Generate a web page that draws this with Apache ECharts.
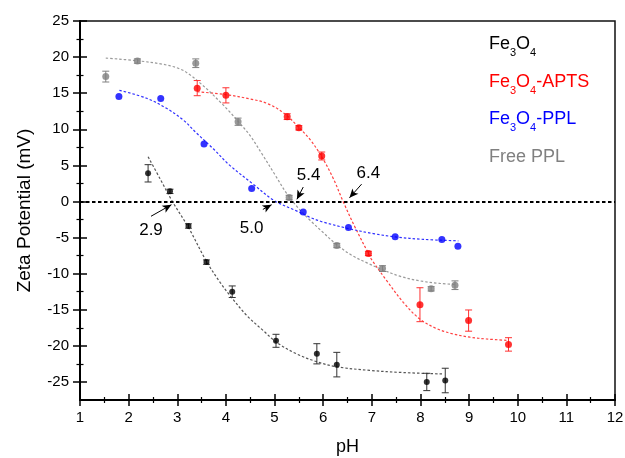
<!DOCTYPE html>
<html><head><meta charset="utf-8">
<script src="https://cdn.jsdelivr.net/npm/echarts@6/dist/echarts.min.js"></script>
<style>html,body{margin:0;padding:0;background:#fff}#c{width:625px;height:458px}</style>
</head><body><div id="c"></div>
<script>
// ---------- data ----------
const xTicks = [1,2,3,4,5,6,7,8,9,10,11,12];
const xMinorTicks = [1.5,2.5,3.5,4.5,5.5,6.5,7.5,8.5,9.5,10.5,11.5];
const yTicks = [-25,-20,-15,-10,-5,0,5,10,15,20,25];
const yMinorTicks = [-22.5,-17.5,-12.5,-7.5,-2.5,2.5,7.5,12.5,17.5,22.5];

const seriesNames = ['Fe3O4','Fe3O4-APTS','Fe3O4-PPL','Free PPL'];

// Fe3O4
const fe3o4PH   = [2.40,2.85,3.23,3.60,4.13,5.03,5.87,6.28,8.13,8.51];
const fe3o4Zeta = [3.9,1.4,-3.4,-8.4,-12.5,-19.3,-21.1,-22.6,-25.0,-24.8];
const fe3o4Err  = [1.2,0.3,0.3,0.3,0.8,0.9,1.4,1.7,1.2,1.7];
const fe3o4FitPH   = [2.40,2.65,2.90,3.23,3.60,3.88,4.08,4.43,4.77,5.04,5.45,5.87,6.28,6.96,7.65,8.47];
const fe3o4FitZeta = [6.2,3.1,0.0,-3.6,-8.3,-11.2,-13.0,-15.8,-17.9,-19.5,-21.1,-22.2,-22.9,-23.4,-23.7,-23.9];

// Fe3O4-APTS
const aptsPH   = [3.41,4.00,5.26,5.50,5.97,6.93,7.99,8.99,9.81];
const aptsZeta = [15.7,14.7,11.75,10.2,6.3,-7.2,-14.3,-16.5,-19.8];
const aptsErr  = [1.05,1.05,0.4,0.3,0.55,0.3,2.35,1.47,0.93];
const aptsFitPH   = [3.41,4.00,4.50,4.84,5.18,5.51,5.74,5.97,6.20,6.41,6.65,6.93,7.00,7.31,7.65,7.99,8.33,8.67,9.02,9.36,9.81];
const aptsFitZeta = [15.2,14.8,14.2,13.6,12.3,10.2,8.5,6.2,3.3,0.0,-3.5,-7.2,-8.1,-11.0,-14.0,-16.3,-17.6,-18.35,-18.8,-19.05,-19.25];

// Fe3O4-PPL
const pplPH   = [1.80,2.66,3.55,4.53,5.59,6.52,7.48,8.44,8.77];
const pplZeta = [14.55,14.25,7.95,1.8,-1.45,-3.6,-4.9,-5.25,-6.2];
const pplErr  = [0,0,0,0,0,0,0,0,0];
const pplFitPH   = [1.81,2.37,2.78,3.12,3.40,3.74,4.08,4.56,5.00,5.45,5.73,6.00,6.52,7.03,7.48,8.06,8.78];
const pplFitZeta = [15.4,14.3,12.9,11.3,9.45,7.3,5.0,2.4,0.1,-1.3,-2.2,-2.85,-3.75,-4.45,-4.9,-5.25,-5.45];

// Free PPL
const freePH   = [1.53,2.18,3.38,4.25,5.30,6.28,7.22,8.22,8.71];
const freeZeta = [17.3,19.45,19.15,11.05,0.55,-6.1,-9.3,-12.1,-11.6];
const freeErr  = [0.75,0.3,0.6,0.5,0.3,0.3,0.4,0.3,0.6];
const freeFitPH   = [1.53,2.17,2.71,3.06,3.26,3.47,3.67,3.88,4.08,4.29,4.49,4.75,5.00,5.25,5.50,5.73,6.00,6.28,6.60,6.90,7.20,7.60,7.99,8.40,8.72];
const freeFitZeta = [19.86,19.5,19.0,18.35,17.55,16.4,15.2,13.8,12.4,10.8,9.2,6.5,3.8,1.1,-1.0,-2.6,-4.3,-6.0,-7.5,-8.5,-9.4,-10.4,-11.0,-11.35,-11.5];

// isoelectric point labels
const iepLabels = ['2.9','5.0','5.4','6.4'];
const iepValues = [2.9,5.0,5.4,6.4];

// ---------- styling / layout ----------
const FONT = "'Liberation Sans', Arial, sans-serif";
const colors = ['#000000','#ff0000','#0000ff','#808080'];
const fitColors = ['#555555','#ff4040','#3030ff','#9a9a9a'];
const errColors = ['#333333','#ff3030','#0000ff','#808080'];
const symSizes = [6,7,7,7];
// arrow geometry relative to each IEP: [tailDx, tailDy, tipDx, tipDy, labelDx, labelDy]
const arrowGeom = [
  [-0.44,-2.05,-0.02,-0.45,-0.44,-4.0],
  [-0.24,-1.1,-0.06,-0.45,-0.47,-3.75],
  [0.19,2.0,0.06,0.3,0.30,3.6],
  [0.39,2.4,0.14,0.5,0.53,3.95]
];

const groups = [
  [fe3o4PH,fe3o4Zeta,fe3o4Err,fe3o4FitPH,fe3o4FitZeta],
  [aptsPH,aptsZeta,aptsErr,aptsFitPH,aptsFitZeta],
  [pplPH,pplZeta,pplErr,pplFitPH,pplFitZeta],
  [freePH,freeZeta,freeErr,freeFitPH,freeFitZeta]
];

function zip(a,b,c){return a.map((v,i)=>c?[v,b[i],c[i]]:[v,b[i]]);}

const series = [];
groups.forEach((g,i)=>{
  series.push({
    type:'line', name:seriesNames[i]+' fit', data:zip(g[3],g[4]),
    smooth:0.35, showSymbol:false, silent:true, z:2,
    lineStyle:{color:fitColors[i], width:1.2, type:[2.5,2]}
  });
});
groups.forEach((g,i)=>{
  series.push({
    type:'custom', name:seriesNames[i]+' err', data:zip(g[0],g[1],g[2]), z:3, silent:true,
    renderItem:(params,api)=>{
      const x=api.value(0), y=api.value(1), e=api.value(2);
      if(!e) return null;
      const t=api.coord([x,y+e]), b=api.coord([x,y-e]);
      const hw=3.5, st={stroke:errColors[i], lineWidth:1};
      return {type:'group',children:[
        {type:'line',shape:{x1:t[0],y1:t[1],x2:b[0],y2:b[1]},style:st},
        {type:'line',shape:{x1:t[0]-hw,y1:t[1],x2:t[0]+hw,y2:t[1]},style:st},
        {type:'line',shape:{x1:b[0]-hw,y1:b[1],x2:b[0]+hw,y2:b[1]},style:st}
      ]};
    }
  });
});
groups.forEach((g,i)=>{
  series.push({
    type:'scatter', name:seriesNames[i], data:zip(g[0],g[1]), z:4,
    symbol:'circle', symbolSize:symSizes[i], itemStyle:{color:colors[i]}
  });
});
// zero line + IEP arrows + labels
const arrowLines = iepValues.map((v,i)=>{
  const a=arrowGeom[i];
  return [{coord:[v+a[0],a[1]]},{coord:[v+a[2],a[3]]}];
});
series.push({
  type:'line', name:'annot', data:[], silent:true,
  markLine:{
    silent:true, symbol:['none','none'], animation:false,
    label:{show:false},
    lineStyle:{color:'#000', width:2, type:[3.5,2.5]},
    data:[{yAxis:0}]
  }
});
series.push({
  type:'line', name:'arrows', data:[], silent:true,
  markLine:{
    silent:true, symbol:['none','arrow'], symbolSize:[6,9], animation:false,
    label:{show:false},
    lineStyle:{color:'#000', width:1, type:'solid'},
    data:arrowLines
  },
  markPoint:{
    silent:true, symbol:'circle', symbolSize:1, animation:false,
    itemStyle:{color:'rgba(0,0,0,0)'},
    label:{show:true, position:'inside', color:'#000', fontSize:17, fontFamily:FONT, formatter:p=>p.name},
    data:iepValues.map((v,i)=>({name:iepLabels[i], coord:[v+arrowGeom[i][4], arrowGeom[i][5]]}))
  }
});

function valueAxis(kind, opts){
  const base = {
    type:'value', splitLine:{show:false},
    axisLine:{show:false, onZero:false},
    axisLabel:{show:false},
    axisTick:{show:false}
  };
  if(kind==='x'){ base.min=1; base.max=12; base.position='bottom'; }
  else { base.min=-27.5; base.max=25; base.position='left'; }
  return Object.assign(base, opts);
}
const tickStyle={color:'#000', width:1.5};
const minorStyle={color:'#000', width:1.2};
const xAxes = [
  valueAxis('x',{
    axisLine:{show:true,onZero:false,lineStyle:{color:'#000',width:2}},
    axisTick:{show:true,customValues:xTicks,length:6,lineStyle:tickStyle},
    axisLabel:{show:true,customValues:xTicks,margin:10,color:'#000',fontSize:15,fontFamily:FONT},
    name:'pH', nameLocation:'middle', nameGap:38,
    nameTextStyle:{color:'#000',fontSize:18,fontFamily:FONT}
  }),
  valueAxis('x',{axisTick:{show:true,inside:true,customValues:xTicks,length:6,lineStyle:tickStyle}}),
  valueAxis('x',{axisTick:{show:true,customValues:xMinorTicks,length:3,lineStyle:minorStyle}}),
  valueAxis('x',{axisTick:{show:true,inside:true,customValues:xMinorTicks,length:3,lineStyle:minorStyle}})
];
const yAxes = [
  valueAxis('y',{
    axisLine:{show:true,onZero:false,lineStyle:{color:'#000',width:2}},
    axisTick:{show:true,customValues:yTicks,length:7,lineStyle:tickStyle},
    axisLabel:{show:true,customValues:yTicks,margin:11,color:'#000',fontSize:15,fontFamily:FONT},
    name:'Zeta Potential (mV)', nameLocation:'middle', nameGap:46,
    nameTextStyle:{color:'#000',fontSize:19,fontFamily:FONT}
  }),
  valueAxis('y',{axisTick:{show:true,inside:true,customValues:yTicks,length:7,lineStyle:tickStyle}}),
  valueAxis('y',{axisTick:{show:true,customValues:yMinorTicks,length:3.5,lineStyle:minorStyle}}),
  valueAxis('y',{axisTick:{show:true,inside:true,customValues:yMinorTicks,length:3.5,lineStyle:minorStyle}})
];

const rich = {};
colors.forEach((c,i)=>{
  rich['m'+i]={color:c,fontSize:18,fontFamily:FONT,lineHeight:32};
  rich['s'+i]={color:c,fontSize:11,fontFamily:FONT,padding:[18,0,0,0]};
});

const chart = echarts.init(document.getElementById('c'), null, {renderer:'canvas'});
chart.setOption({
  animation:false,
  backgroundColor:'#fff',
  textStyle:{fontFamily:FONT},
  grid:{left:80,right:10,top:21,bottom:58,show:true,borderColor:'#111',borderWidth:1.5,backgroundColor:'transparent',outerBoundsMode:'none'},
  legend:{
    orient:'vertical', left:483, top:35, padding:0, itemGap:14.2,
    icon:'none', itemWidth:1, itemHeight:14, selectedMode:false,
    data:seriesNames.map((n,i)=>({name:n,textStyle:{color:colors[i]}})),
    formatter:name=>{
      const i=seriesNames.indexOf(name);
      return name.split(/(\d)/).filter(s=>s.length).map(s=>/^\d$/.test(s)?`{s${i}|${s}}`:`{m${i}|${s}}`).join('');
    },
    textStyle:{fontFamily:FONT,fontSize:18,rich:rich}
  },
  xAxis:xAxes,
  yAxis:yAxes,
  series:series
});
</script>
</body></html>
